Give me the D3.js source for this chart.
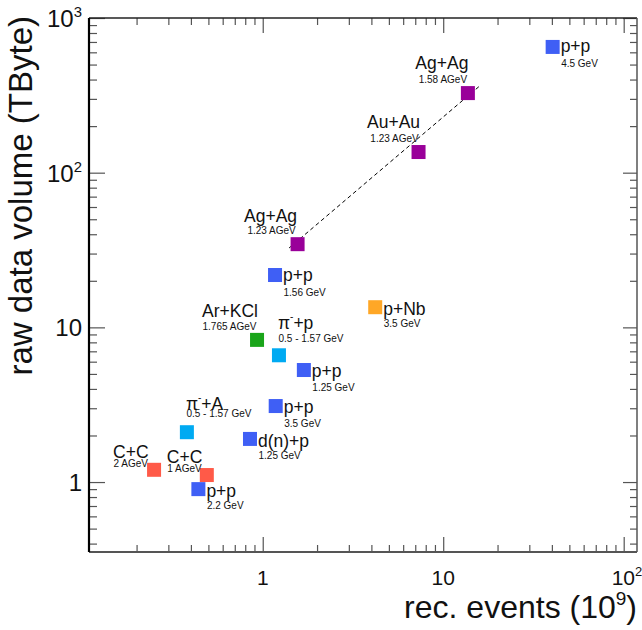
<!DOCTYPE html>
<html>
<head>
<meta charset="utf-8">
<script src="https://cdn.jsdelivr.net/npm/d3@7"></script>
<style>
  body { margin: 0; background: #fff; }
  svg { display: block; font-family: "Liberation Sans", Arial, sans-serif; }
</style>
</head>
<body>
<svg id="chart" width="642" height="630"></svg>
<script>
// run data
const names    = ["p+p", "Ag+Ag", "Au+Au", "Ag+Ag", "p+p", "Ar+KCl", "π^-+p", "p+p", "p+Nb", "p+p", "d(n)+p", "π^-+A", "C+C", "C+C", "p+p"];
const energies = ["4.5 GeV", "1.58 AGeV", "1.23 AGeV", "1.23 AGeV", "1.56 GeV", "1.765 AGeV", "0.5 - 1.57 GeV", "1.25 GeV", "3.5 GeV", "3.5 GeV", "1.25 GeV", "0.5 - 1.57 GeV", "2 AGeV", "1 AGeV", "2.2 GeV"];
const kinds    = ["pp", "heavy", "heavy", "heavy", "pp", "medium", "pion", "pp", "pA", "pp", "pp", "pion", "light", "light", "pp"];
const events   = [40.4, 13.7, 7.3, 1.56, 1.17, 0.93, 1.23, 1.69, 4.2, 1.18, 0.85, 0.38, 0.25, 0.49, 0.44];   // 10^9
const volume   = [650, 327, 136, 34.5, 21.8, 8.3, 6.6, 5.3, 13.5, 3.1, 1.9, 2.1, 1.2, 1.11, 0.9];          // TByte

// dashed trend through the heavy-ion runs
const fitEvents = [1.4, 15.9];
const fitVolume = [32.6, 363];

const kindList  = ["pp", "heavy", "medium", "pion", "pA", "light"];
const kindColor = ["#3f5ff5", "#990099", "#1aa51a", "#00aaf2", "#ffa726", "#ff5a48"];

// label placement relative to the marker centre
const labelPos = [
  {a: "start", dx: 8, m: 5, s: 20},
  {a: "middle", dx: -26, m: -24, s: -10},
  {a: "middle", dx: -25, m: -24, s: -10},
  {a: "middle", dx: -27, m: -22, s: -10},
  {a: "start", dx: 8, m: 6, s: 21},
  {a: "start", dx: -55, m: -23, s: -10},
  {a: "start", dx: -1, m: -26, s: -13},
  {a: "start", dx: 8, m: 7, s: 21},
  {a: "start", dx: 8, m: 8, s: 20},
  {a: "start", dx: 8, m: 7, s: 21},
  {a: "start", dx: 8, m: 8, s: 20},
  {a: "start", dx: -1, m: -22, s: -15},
  {a: "start", dx: -41, m: -12, s: -3},
  {a: "start", dx: -40, m: -12, s: -3},
  {a: "start", dx: 8, m: 8, s: 20}
];

const xMajor = [1, 10, 100];
const yMajor = [1, 10, 100, 1000];

const mLeft = 89, mRight = 637, mTop = 18, mBottom = 552;

const svg = d3.select("#chart");

const x = d3.scaleLog().domain([0.109, 118.5]).range([mLeft, mRight]);
const y = d3.scaleLog().domain([0.353, 1000]).range([mBottom, mTop]);
const color = d3.scaleOrdinal().domain(kindList).range(kindColor);

// minor ticks 2..9 of every decade inside the range
function minors(scale) {
    const [d0, d1] = scale.domain();
    const out = [];
    for (let e = -2; e <= 3; e++) {
        for (let m = 2; m <= 9; m++) {
            const v = m * Math.pow(10, e);
            if (v > d0 && v < d1) out.push(v);
        }
    }
    return out;
}

function tickAxis(axisFn, scale, values, size, transform) {
    const g = svg.append("g").attr("transform", transform)
        .call(axisFn(scale).tickValues(values).tickSize(-size).tickFormat(""));
    g.select(".domain").remove();
    g.selectAll("line").attr("stroke", "#555").attr("stroke-width", 1.2);
    return g;
}

tickAxis(d3.axisBottom, x, minors(x), 7, `translate(0,${mBottom})`);
tickAxis(d3.axisBottom, x, xMajor, 15, `translate(0,${mBottom})`);
tickAxis(d3.axisTop, x, minors(x), 7, `translate(0,${mTop})`);
tickAxis(d3.axisTop, x, xMajor, 15, `translate(0,${mTop})`);
tickAxis(d3.axisLeft, y, minors(y), 8, `translate(${mLeft},0)`);
tickAxis(d3.axisLeft, y, yMajor, 16, `translate(${mLeft},0)`);
tickAxis(d3.axisRight, y, minors(y), 7, `translate(${mRight},0)`);
tickAxis(d3.axisRight, y, yMajor, 14, `translate(${mRight},0)`);

// frame
svg.append("line").attr("x1", mLeft).attr("x2", mRight).attr("y1", mTop).attr("y2", mTop)
    .attr("stroke", "#222").attr("stroke-width", 1.5);
svg.append("line").attr("x1", mRight).attr("x2", mRight).attr("y1", mTop).attr("y2", mBottom)
    .attr("stroke", "#555").attr("stroke-width", 1.5);
svg.append("line").attr("x1", mLeft).attr("x2", mRight).attr("y1", mBottom).attr("y2", mBottom)
    .attr("stroke", "#555").attr("stroke-width", 2);
svg.append("line").attr("x1", mLeft).attr("x2", mLeft).attr("y1", mTop).attr("y2", mBottom)
    .attr("stroke", "#000").attr("stroke-width", 2.2);

// power-of-ten label: "1", "10", or "10" + superscript
function powLabel(sel, v, size) {
    const e = Math.round(Math.log10(v));
    if (e <= 1) {
        sel.text(String(v));
    } else {
        sel.append("tspan").text("10");
        sel.append("tspan").attr("font-size", size * 0.62).attr("dy", -size * 0.42).text(e);
    }
}

// x tick labels
xMajor.forEach(v => {
    const t = svg.append("text").attr("x", x(v)).attr("y", 585)
        .attr("font-size", 21).attr("fill", "#111");
    powLabel(t, v, 21);
    const e = Math.round(Math.log10(v));
    t.attr("text-anchor", "middle");
    if (e > 1) t.attr("text-anchor", "start").attr("x", x(v) - 12);
});

// y tick labels
yMajor.forEach(v => {
    const t = svg.append("text").attr("x", 82).attr("y", y(v) + 9)
        .attr("font-size", 24).attr("text-anchor", "end").attr("fill", "#111");
    powLabel(t, v, 24);
});

// axis titles
const xt = svg.append("text").attr("x", mRight).attr("y", 618)
    .attr("font-size", 32).attr("text-anchor", "end").attr("fill", "#111");
xt.append("tspan").text("rec. events (10");
xt.append("tspan").attr("font-size", 19).attr("dy", -13).text("9");
xt.append("tspan").attr("dy", 13).text(")");

svg.append("text").attr("transform", `translate(32,${mTop - 2}) rotate(-90)`)
    .attr("font-size", 33).attr("text-anchor", "end").attr("fill", "#111")
    .text("raw data volume (TByte)");

// trend line
svg.append("line")
    .attr("x1", x(fitEvents[0])).attr("y1", y(fitVolume[0]))
    .attr("x2", x(fitEvents[1])).attr("y2", y(fitVolume[1]))
    .attr("stroke", "#000").attr("stroke-width", 1).attr("stroke-dasharray", "4,3");

// markers
const size = 14;
svg.append("g").selectAll("rect").data(events).join("rect")
    .attr("x", (d, i) => x(d) - size / 2)
    .attr("y", (d, i) => y(volume[i]) - size / 2)
    .attr("width", size).attr("height", size)
    .attr("fill", (d, i) => color(kinds[i]));

// labels
const labels = svg.append("g").attr("fill", "#111");
names.forEach((n, i) => {
    const cx = x(events[i]), cy = y(volume[i]);
    const p = labelPos[i];
    const t = labels.append("text").attr("x", cx + p.dx).attr("y", cy + p.m)
        .attr("font-size", 17.5).attr("text-anchor", p.a);
    const parts = n.split("^-");
    if (parts.length > 1) {
        t.append("tspan").text(parts[0]);
        t.append("tspan").attr("font-size", 10).attr("dy", -9).text("-");
        t.append("tspan").attr("dy", 9).text(parts[1]);
    } else {
        t.text(n);
    }
    labels.append("text").attr("x", cx + p.dx + (p.a === "start" ? 0.5 : 1)).attr("y", cy + p.s)
        .attr("font-size", 10).attr("text-anchor", p.a).text(energies[i]);
});
</script>
</body>
</html>
